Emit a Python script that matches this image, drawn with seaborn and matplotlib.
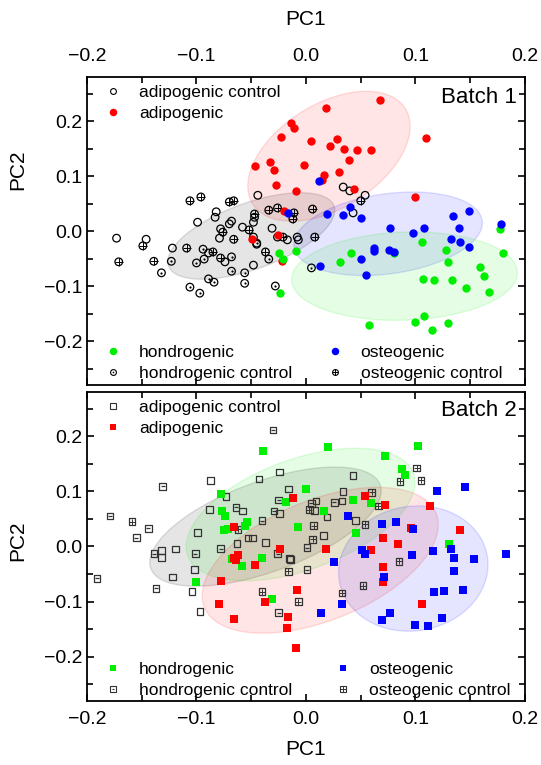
import numpy as np
import matplotlib
matplotlib.use("Agg")
import matplotlib.pyplot as plt
from matplotlib.lines import Line2D
from matplotlib.patches import Polygon
from matplotlib.legend_handler import HandlerTuple
from matplotlib.ticker import MultipleLocator
import seaborn as sns

sns.set_theme(style="ticks")
plt.rcParams["font.family"] = ["Liberation Sans", "DejaVu Sans"]
plt.rcParams["text.color"] = "black"
plt.rcParams["axes.labelcolor"] = "black"

RED, GREEN, BLUE = "#ff0000", "#00ee00", "#0000ff"

# ---------------- Batch 1 scores (PC1, PC2) ----------------
b1_adipo_x = [0.068, 0.018, -0.014, -0.011, -0.023, 0.005, 0.028, 0.022, 0.035, 0.047, 0.059,
              0.039, -0.002, -0.029, 0.015, -0.047, -0.033, -0.027, -0.009, 0.016, 0.110, 0.100,
              0.044, 0.030, -0.020, -0.049, -0.026, -0.022]
b1_adipo_y = [0.238, 0.224, 0.196, 0.187, 0.171, 0.164, 0.167, 0.155, 0.149, 0.147, 0.147,
              0.129, 0.120, 0.111, 0.093, 0.118, 0.125, 0.084, 0.073, 0.102, 0.169, 0.062,
              0.076, 0.107, 0.036, -0.015, -0.007, -0.055]

b1_osteo_x = [0.134, 0.149, 0.077, 0.108, 0.098, 0.140, 0.132, 0.141, 0.149, 0.178, 0.062,
              0.062, 0.076, 0.080, 0.050, 0.050, 0.055, 0.040, 0.012, -0.016, 0.019, 0.013, 0.034]
b1_osteo_y = [0.027, 0.036, 0.005, 0.005, -0.004, 0.005, -0.015, -0.020, -0.029, 0.013, -0.031,
              -0.036, -0.035, -0.038, 0.024, -0.051, -0.080, 0.044, 0.091, 0.033, 0.031, -0.064, 0.029]

b1_hondro_x = [0.106, 0.128, 0.130, 0.180, 0.159, 0.163, 0.107, 0.117, 0.133, 0.146, 0.167,
               0.108, 0.100, 0.130, 0.058, 0.115, 0.080, 0.041, 0.177, -0.009, -0.021, -0.025,
               -0.024, 0.031]
b1_hondro_y = [-0.020, -0.035, -0.056, -0.040, -0.065, -0.082, -0.087, -0.089, -0.089, -0.104, -0.111,
               -0.155, -0.165, -0.167, -0.171, -0.180, -0.040, -0.040, 0.004, -0.036, -0.051, -0.040,
               -0.113, -0.056]

b1_adipo_ctrl_x = [-0.146, -0.122, -0.099, -0.082, -0.083, -0.070, -0.068, -0.078, -0.079, -0.058,
                   -0.048, -0.044, -0.031, -0.026, -0.017, -0.008, -0.007, -0.045, -0.074, -0.048,
                   -0.089, -0.047, 0.054, 0.043, 0.034, 0.040, -0.173]
b1_adipo_ctrl_y = [-0.015, -0.031, 0.016, 0.035, 0.025, 0.013, 0.018, 0.004, -0.013, 0.007,
                   0.016, 0.065, 0.005, -0.011, -0.016, -0.011, -0.016, -0.024, -0.056, -0.062,
                   -0.040, 0.025, 0.065, 0.033, 0.080, 0.073, -0.013]

b1_hondro_ctrl_x = [-0.132, -0.123, -0.100, -0.093, -0.094, -0.068, -0.068, -0.056, -0.084, -0.089,
                    -0.106, -0.097, -0.056, -0.034, -0.028, 0.005, -0.045, -0.048]
b1_hondro_ctrl_y = [-0.076, -0.055, -0.058, -0.051, -0.033, -0.047, -0.073, -0.095, -0.093, -0.087,
                    -0.102, -0.113, -0.076, -0.051, -0.100, -0.067, -0.022, -0.011]

b1_osteo_ctrl_x = [-0.106, -0.096, -0.070, -0.066, -0.034, -0.026, -0.012, -0.011, 0.006, -0.047,
                   -0.052, -0.066, -0.076, -0.085, -0.109, -0.078, -0.037, -0.021, 0.008, -0.139,
                   -0.149, 0.050, -0.171]
b1_osteo_ctrl_y = [0.055, 0.062, 0.053, 0.055, 0.038, 0.042, 0.022, 0.033, 0.040, 0.031,
                   0.002, -0.015, -0.002, -0.038, -0.031, -0.049, -0.038, -0.011, -0.011, -0.055,
                   -0.027, 0.055, -0.056]

# ---------------- Batch 2 scores (PC1, PC2) ----------------
b2_adipo_x = [-0.066, -0.062, -0.064, -0.066, -0.047, -0.024, -0.012, -0.078, -0.079, -0.066,
              -0.037, -0.008, -0.016, -0.017, -0.009, 0.054, 0.072, 0.113, 0.096, 0.141,
              0.070, 0.084, 0.018, 0.059, 0.070, 0.070, 0.106]
b2_adipo_y = [0.036, -0.016, -0.025, -0.020, -0.033, -0.004, 0.087, -0.062, -0.104, -0.131,
              -0.100, -0.078, -0.127, -0.147, -0.184, 0.091, 0.076, 0.073, 0.033, 0.029,
              0.016, 0.005, -0.005, -0.007, -0.038, -0.064, -0.104]

b2_osteo_x = [0.120, 0.145, 0.038, 0.082, 0.069, 0.098, 0.132, 0.135, 0.153, 0.183, 0.051,
              0.054, 0.097, 0.116, 0.026, 0.071, 0.135, 0.117, 0.126, 0.143, 0.033, 0.014,
              0.077, 0.069, 0.124, 0.100, 0.111]
b2_osteo_y = [0.100, 0.107, 0.055, 0.044, 0.040, 0.031, -0.004, -0.020, -0.022, -0.013, -0.007,
              -0.013, -0.015, -0.009, -0.029, -0.055, -0.045, -0.082, -0.080, -0.078, -0.105, -0.120,
              -0.120, -0.133, -0.129, -0.142, -0.145]

b2_hondro_x = [-0.039, -0.078, -0.077, -0.074, -0.075, -0.071, -0.056, -0.054, -0.018, -0.068,
               -0.058, -0.040, -0.100, -0.031, -0.007, 0.020, 0.102, 0.072, 0.088, 0.090,
               0.000, 0.043, 0.059, 0.016, 0.046, 0.131]
b2_hondro_y = [0.173, 0.096, 0.065, 0.056, 0.029, 0.031, 0.038, 0.045, 0.080, -0.022,
               -0.035, -0.020, -0.065, -0.095, 0.035, 0.180, 0.182, 0.164, 0.140, 0.129,
               0.104, 0.085, 0.078, 0.064, 0.024, 0.004]

b2_adipo_ctrl_x = [-0.087, -0.073, -0.088, -0.099, -0.119, -0.132, -0.132, -0.102, -0.122, -0.104,
                   -0.097, -0.043, -0.024, -0.016, -0.024, -0.063, -0.037, -0.015, -0.053, -0.049,
                   -0.058, 0.043, 0.034, 0.009, 0.033, 0.019, 0.045, 0.008, 0.016, -0.014]
b2_adipo_ctrl_y = [0.120, 0.091, 0.067, 0.025, -0.005, -0.007, -0.020, -0.042, -0.055, -0.082,
                   -0.118, 0.122, 0.135, 0.104, 0.060, 0.005, 0.007, -0.022, 0.015, 0.015,
                   0.064, 0.129, 0.100, 0.082, 0.082, 0.053, 0.047, 0.065, 0.020, -0.024]

b2_hondro_ctrl_x = [-0.131, -0.179, -0.144, -0.155, -0.139, -0.101, -0.191, -0.137, -0.078, -0.040,
                    -0.026, -0.025, -0.064, -0.029, -0.025, -0.030, 0.005, 0.026, 0.001, 0.001]
b2_hondro_ctrl_y = [0.109, 0.055, 0.033, 0.016, -0.013, -0.013, -0.058, -0.076, -0.004, 0.047,
                    -0.013, 0.084, 0.071, 0.064, -0.120, 0.211, 0.078, 0.080, -0.002, -0.042]

b2_osteo_ctrl_x = [-0.159, -0.062, -0.016, -0.040, -0.007, 0.101, 0.105, 0.086, 0.060, 0.066,
                   0.054, 0.007, 0.006, 0.003, 0.085, 0.052, 0.033]
b2_osteo_ctrl_y = [0.045, 0.031, -0.045, -0.082, -0.100, 0.142, 0.120, 0.118, 0.098, 0.073,
                   0.040, 0.038, 0.013, 0.067, -0.027, -0.071, -0.084]

# Confidence ellipses: centre and the two half-axis vectors, in (PC1, PC2) units
b1_ellipses = {
    "adipo_ctrl": ((-0.050, -0.009), (0.0755, 0.0547), (-0.0103, 0.0564), "#000000"),
    "adipo": ((0.021, 0.136), (0.0697, 0.0867), (-0.0252, 0.0802), RED),
    "osteo": ((0.075, -0.005), (0.0859, 0.0240), (-0.0051, 0.0720), BLUE),
    "hondro": ((0.090, -0.082), (0.1031, 0.0072), (-0.0014, 0.0800), GREEN),
}
b2_ellipses = {
    "adipo_ctrl": ((-0.037, 0.036), (0.1047, 0.0758), (-0.0141, 0.0769), "#000000"),
    "hondro": ((-0.005, 0.058), (0.1030, 0.0746), (-0.0172, 0.0940), GREEN),
    "adipo": ((0.013, -0.025), (0.1058, 0.0851), (-0.0205, 0.1011), RED),
    "osteo": ((0.098, -0.040), (0.0675, 0.0236), (-0.0099, 0.1111), BLUE),
}

ticks = [-0.2, -0.1, 0.0, 0.1, 0.2]
tick_labels = ["\u22120.2", "\u22120.1", "0.0", "0.1", "0.2"]
group_labels = ["adipogenic control", "adipogenic", "hondrogenic", "hondrogenic control",
                "osteogenic", "osteogenic control"]

TICK_FS = 14
LEG_FS = 12.5


def draw_ellipse(ax, center, u, v, color):
    t = np.linspace(0, 2 * np.pi, 240)
    c = np.asarray(center)
    pts = c + np.outer(np.cos(t), u) + np.outer(np.sin(t), v)
    ax.add_patch(Polygon(pts, closed=True, facecolor=color, alpha=0.10,
                         edgecolor="none", zorder=1))
    ax.add_patch(Polygon(pts, closed=True, facecolor="none", edgecolor=color,
                         alpha=0.12, linewidth=1.0, zorder=1))


def filled(ax, x, y, marker, color, s):
    sns.scatterplot(x=x, y=y, ax=ax, marker=marker, s=s, color=color,
                    edgecolor=color, linewidth=0, zorder=4)


def hollow(ax, x, y, marker, s, inner=None, edge="black"):
    ax.scatter(x, y, marker=marker, s=s, facecolors="none", edgecolors=edge,
               linewidths=0.9, zorder=3)
    if inner is not None:
        m, ms, lw = inner
        ax.scatter(x, y, marker=m, s=ms, color=edge, linewidths=lw, zorder=3)


def style_axes(ax, top_labels):
    ax.set_xlim(-0.2, 0.2)
    ax.set_ylim(-0.28, 0.28)
    ax.set_xticks(ticks)
    ax.set_yticks(ticks)
    ax.set_yticklabels(tick_labels)
    ax.xaxis.set_minor_locator(MultipleLocator(0.05))
    ax.yaxis.set_minor_locator(MultipleLocator(0.05))
    ax.tick_params(which="both", direction="in", top=True, bottom=True, left=True, right=True,
                   width=1.2, color="black", labelsize=TICK_FS, labelcolor="black")
    ax.tick_params(which="major", length=5)
    ax.tick_params(which="minor", length=4)
    if top_labels:
        ax.tick_params(axis="x", labeltop=True, labelbottom=False, pad=9)
    else:
        ax.tick_params(axis="x", labeltop=False, labelbottom=True, pad=7)
    ax.set_xticklabels(tick_labels)
    for sp in ax.spines.values():
        sp.set_visible(True)
        sp.set_linewidth(1.3)
        sp.set_color("black")
    ax.set_facecolor("white")
    ax.grid(False)


def legends(ax, handles, colspacing, upper_y, lower_y):
    kw = dict(frameon=False, fontsize=LEG_FS, handlelength=1.0, handletextpad=1.0,
              borderaxespad=0, borderpad=0, labelspacing=0.35, labelcolor="black",
              handler_map={tuple: HandlerTuple(ndivide=1, pad=0)})
    leg1 = ax.legend(handles[:2], group_labels[:2], loc="upper left",
                     bbox_to_anchor=(0.039, upper_y), **kw)
    ax.add_artist(leg1)
    ax.legend(handles[2:], group_labels[2:], loc="lower left", ncol=2,
              columnspacing=colspacing, bbox_to_anchor=(0.039, lower_y), **kw)


fig = plt.figure(figsize=(5.41, 7.65), dpi=100)
fig.patch.set_facecolor("white")
ax1 = fig.add_axes([0.1608, 0.4967, 0.8096, 0.4026])
ax2 = fig.add_axes([0.1608, 0.0837, 0.8096, 0.4039])

# ---- Batch 1: circles ----
for key, (c, u, v, col) in b1_ellipses.items():
    draw_ellipse(ax1, c, u, v, col)
hollow(ax1, b1_adipo_ctrl_x, b1_adipo_ctrl_y, "o", 30)
hollow(ax1, b1_hondro_ctrl_x, b1_hondro_ctrl_y, "o", 30, inner=("o", 2.5, 0))
hollow(ax1, b1_osteo_ctrl_x, b1_osteo_ctrl_y, "o", 30, inner=("+", 30, 0.7))
filled(ax1, b1_adipo_x, b1_adipo_y, "o", RED, 36)
filled(ax1, b1_hondro_x, b1_hondro_y, "o", GREEN, 36)
filled(ax1, b1_osteo_x, b1_osteo_y, "o", BLUE, 36)
style_axes(ax1, top_labels=True)
ax1.text(0.982, 0.935, "Batch 1", transform=ax1.transAxes, ha="right", va="center",
         fontsize=16, color="black")

ms_o, ms_f = 4.2, 5.4
h1 = [
    Line2D([], [], ls="", marker="o", ms=ms_o, mfc="none", mec="black", mew=0.8),
    Line2D([], [], ls="", marker="o", ms=ms_f, mfc=RED, mec=RED, mew=0),
    Line2D([], [], ls="", marker="o", ms=ms_f, mfc=GREEN, mec=GREEN, mew=0),
    (Line2D([], [], ls="", marker="o", ms=ms_o, mfc="none", mec="black", mew=0.8),
     Line2D([], [], ls="", marker="o", ms=1.2, mfc="black", mec="black", mew=0)),
    Line2D([], [], ls="", marker="o", ms=ms_f, mfc=BLUE, mec=BLUE, mew=0),
    (Line2D([], [], ls="", marker="o", ms=ms_o, mfc="none", mec="black", mew=0.8),
     Line2D([], [], ls="", marker="+", ms=ms_o, mec="black", mew=0.7)),
]
legends(ax1, h1, 1.95, 0.975, 0.012)

# ---- Batch 2: squares ----
for key, (c, u, v, col) in b2_ellipses.items():
    draw_ellipse(ax2, c, u, v, col)
GREY = "#333333"
hollow(ax2, b2_adipo_ctrl_x, b2_adipo_ctrl_y, "s", 22, edge=GREY)
hollow(ax2, b2_hondro_ctrl_x, b2_hondro_ctrl_y, "s", 22, inner=("_", 6, 0.9), edge=GREY)
hollow(ax2, b2_osteo_ctrl_x, b2_osteo_ctrl_y, "s", 22, inner=("+", 22, 0.7), edge=GREY)
filled(ax2, b2_hondro_x, b2_hondro_y, "s", GREEN, 28)
filled(ax2, b2_adipo_x, b2_adipo_y, "s", RED, 28)
filled(ax2, b2_osteo_x, b2_osteo_y, "s", BLUE, 28)
style_axes(ax2, top_labels=False)
ax2.text(0.982, 0.939, "Batch 2", transform=ax2.transAxes, ha="right", va="center",
         fontsize=16, color="black")

ms_s = 4.0
h2 = [
    Line2D([], [], ls="", marker="s", ms=ms_s, mfc="none", mec=GREY, mew=0.8),
    Line2D([], [], ls="", marker="s", ms=ms_s + 0.8, mfc=RED, mec=RED, mew=0),
    Line2D([], [], ls="", marker="s", ms=ms_s + 0.8, mfc=GREEN, mec=GREEN, mew=0),
    (Line2D([], [], ls="", marker="s", ms=ms_s, mfc="none", mec=GREY, mew=0.8),
     Line2D([], [], ls="", marker="_", ms=1.8, mec=GREY, mew=0.8)),
    Line2D([], [], ls="", marker="s", ms=ms_s + 0.8, mfc=BLUE, mec=BLUE, mew=0),
    (Line2D([], [], ls="", marker="s", ms=ms_s, mfc="none", mec=GREY, mew=0.8),
     Line2D([], [], ls="", marker="+", ms=ms_s, mec=GREY, mew=0.7)),
]
legends(ax2, h2, 2.45, 0.975, 0.010)

# axis titles
ax1.set_xlabel("PC1", fontsize=15)
ax1.xaxis.set_label_position("top")
ax1.xaxis.set_label_coords(0.498, 1.17)
ax1.set_ylabel("PC2", fontsize=15)
ax1.yaxis.set_label_coords(-0.137, 0.70)
ax2.set_xlabel("PC1", fontsize=15)
ax2.xaxis.set_label_coords(0.498, -0.125)
ax2.set_ylabel("PC2", fontsize=15)
ax2.yaxis.set_label_coords(-0.137, 0.52)

fig.savefig("out.png", dpi=100, facecolor="white")
